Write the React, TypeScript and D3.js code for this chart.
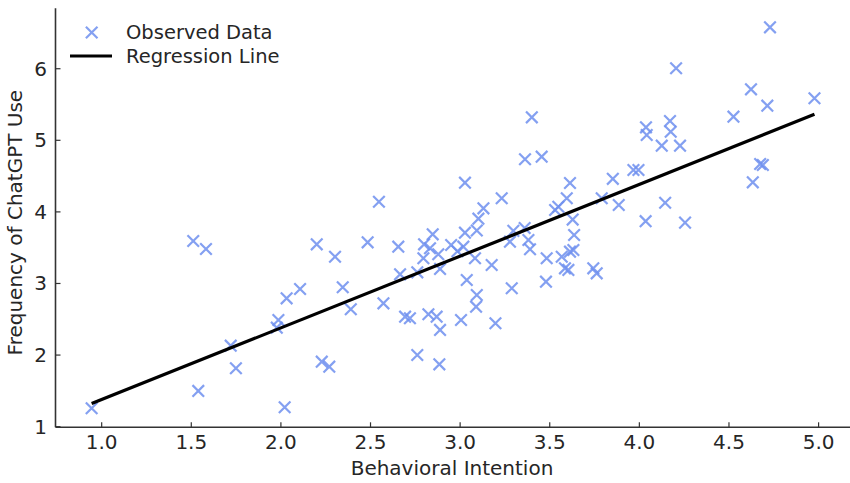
import React, { useEffect, useRef } from 'react';
import * as d3 from 'd3';

// observed data (behavioral intention vs. frequency of ChatGPT use)
const intention = [
  0.944, 1.511, 1.582, 1.539, 1.72, 1.749, 1.986, 1.977, 2.021, 2.032,
  2.107, 2.2, 2.302, 2.228, 2.27, 2.345, 2.39, 2.484, 2.547, 2.572,
  2.655, 2.665, 2.693, 2.72, 2.761, 2.761, 2.799, 2.847, 2.832, 2.795,
  2.878, 2.888, 2.823, 2.869, 2.888, 2.884, 2.95, 3.018, 3.027, 3.093,
  3.102, 3.13, 3.232, 3.027, 3.083, 3.176, 3.037, 3.093, 3.089, 3.005,
  3.197, 3.288, 3.479, 3.297, 3.278, 3.36, 3.381, 3.39, 3.362, 3.455,
  3.4, 3.483, 3.53, 3.548, 3.595, 3.613, 3.628, 3.636, 3.567, 3.613,
  3.632, 3.585, 3.604, 3.743, 3.762, 3.79, 3.852, 3.885, 3.967, 3.995,
  4.035, 4.037, 4.041, 4.125, 4.144, 4.171, 4.175, 4.205, 4.227, 4.255,
  4.525, 4.623, 4.633, 4.674, 4.689, 4.714, 4.729, 4.977, 2.985,
];
const frequency = [
  1.257, 3.594, 3.482, 1.499, 2.131, 1.816, 2.49, 2.383, 1.271, 2.793,
  2.923, 3.547, 3.374, 1.908, 1.838, 2.947, 2.64, 3.575, 4.142, 2.723,
  3.514, 3.128, 2.536, 2.514, 3.156, 2.001, 3.547, 3.687, 3.492, 3.352,
  3.408, 3.203, 2.57, 2.536, 2.351, 1.871, 3.538, 3.514, 3.71, 3.74,
  3.905, 4.05, 4.19, 4.408, 3.352, 3.258, 3.049, 2.839, 2.676, 2.49,
  2.444, 2.933, 3.025, 3.735, 3.584, 3.775, 3.608, 3.478, 4.735, 4.771,
  5.321, 3.352, 4.026, 4.072, 4.19, 4.404, 3.893, 3.677, 3.374, 3.444,
  3.468, 3.212, 3.189, 3.212, 3.142, 4.19, 4.462, 4.096, 4.585, 4.585,
  3.87, 5.181, 5.074, 4.925, 4.128, 5.27, 5.12, 6.006, 4.925, 3.85,
  5.33, 5.712, 4.413, 4.669, 4.655, 5.484, 6.578, 5.587, 3.45,
];

// fitted regression
const slope = 1.002;
const intercept = 0.376;

const xTicks = [1.0, 1.5, 2.0, 2.5, 3.0, 3.5, 4.0, 4.5, 5.0];
const yTicks = [1, 2, 3, 4, 5, 6];

const W = 850;
const H = 483;
const FONT = 'DejaVu Sans, sans-serif';
const TEXT = '#262626';
const MARK = '#6f8fef';

export default function App() {
  const svgRef = useRef<SVGSVGElement>(null);

  useEffect(() => {
    const svg = d3.select(svgRef.current);
    svg.selectAll('*').remove();

    const data = intention.map((x, i) => ({ x, y: frequency[i] }));

    // matplotlib style 5% margins
    const [x0, x1] = d3.extent(intention) as [number, number];
    const [y0, y1] = d3.extent(frequency) as [number, number];
    const px = (x1 - x0) * 0.05;
    const py = (y1 - y0) * 0.05;

    const x = d3.scaleLinear().domain([x0 - px, x1 + px]).range([55.5, 850.6]);
    const y = d3.scaleLinear().domain([y0 - py, y1 + py]).range([427.3, 8.3]);

    const g = svg.append('g');

    // spines (left + bottom only)
    g.append('line')
      .attr('x1', x.range()[0]).attr('x2', x.range()[0])
      .attr('y1', y.range()[0]).attr('y2', y.range()[1])
      .attr('stroke', '#333').attr('stroke-width', 1.6);
    g.append('line')
      .attr('x1', x.range()[0]).attr('x2', x.range()[1])
      .attr('y1', y.range()[0]).attr('y2', y.range()[0])
      .attr('stroke', '#333').attr('stroke-width', 1.6);

    // x ticks (pointing in)
    xTicks.forEach((t) => {
      g.append('line')
        .attr('x1', x(t)).attr('x2', x(t))
        .attr('y1', y.range()[0]).attr('y2', y.range()[0] - 5)
        .attr('stroke', '#333').attr('stroke-width', 1.2);
      g.append('text')
        .attr('x', x(t)).attr('y', 449)
        .attr('text-anchor', 'middle')
        .attr('font-family', FONT).attr('font-size', 20)
        .attr('fill', TEXT)
        .text(t.toFixed(1));
    });

    // y ticks
    yTicks.forEach((t) => {
      g.append('line')
        .attr('x1', x.range()[0]).attr('x2', x.range()[0] + 5)
        .attr('y1', y(t)).attr('y2', y(t))
        .attr('stroke', '#333').attr('stroke-width', 1.2);
      g.append('text')
        .attr('x', 47).attr('y', y(t) + 7)
        .attr('text-anchor', 'end')
        .attr('font-family', FONT).attr('font-size', 20)
        .attr('fill', TEXT)
        .text(t);
    });

    // axis labels
    g.append('text')
      .attr('x', 452).attr('y', 475)
      .attr('text-anchor', 'middle')
      .attr('font-family', FONT).attr('font-size', 20)
      .attr('fill', TEXT)
      .text('Behavioral Intention');
    g.append('text')
      .attr('transform', `translate(22,${y(3.85)}) rotate(-90)`)
      .attr('text-anchor', 'middle')
      .attr('font-family', FONT).attr('font-size', 20)
      .attr('fill', TEXT)
      .text('Frequency of ChatGPT Use');

    // observed points as x markers
    const s = 5.8;
    const crossPath = `M${-s},${-s}L${s},${s}M${-s},${s}L${s},${-s}`;
    g.append('g')
      .selectAll('path')
      .data(data)
      .enter()
      .append('path')
      .attr('transform', (d) => `translate(${x(d.x)},${y(d.y)})`)
      .attr('d', crossPath)
      .attr('stroke', MARK)
      .attr('stroke-width', 2.2)
      .attr('stroke-opacity', 0.85)
      .attr('fill', 'none');

    // regression line across the observed range
    const line = d3.line<number>()
      .x((d) => x(d))
      .y((d) => y(intercept + slope * d));
    g.append('path')
      .attr('d', line([x0, x1]))
      .attr('stroke', '#000')
      .attr('stroke-width', 3.2)
      .attr('fill', 'none');

    // legend
    const leg = g.append('g');
    leg.append('path')
      .attr('transform', 'translate(91.7,32.5)')
      .attr('d', crossPath)
      .attr('stroke', MARK)
      .attr('stroke-width', 2.2)
      .attr('stroke-opacity', 0.85)
      .attr('fill', 'none');
    leg.append('text')
      .attr('x', 126).attr('y', 39)
      .attr('font-family', FONT).attr('font-size', 19.5)
      .attr('fill', TEXT)
      .text('Observed Data');
    leg.append('line')
      .attr('x1', 70).attr('x2', 112)
      .attr('y1', 56).attr('y2', 56)
      .attr('stroke', '#000').attr('stroke-width', 3.2);
    leg.append('text')
      .attr('x', 126).attr('y', 63)
      .attr('font-family', FONT).attr('font-size', 19.5)
      .attr('fill', TEXT)
      .text('Regression Line');
  }, []);

  return (
    <svg
      ref={svgRef}
      width={W}
      height={H}
      style={{ position: 'absolute', left: 0, top: 0, background: '#fff' }}
    />
  );
}
